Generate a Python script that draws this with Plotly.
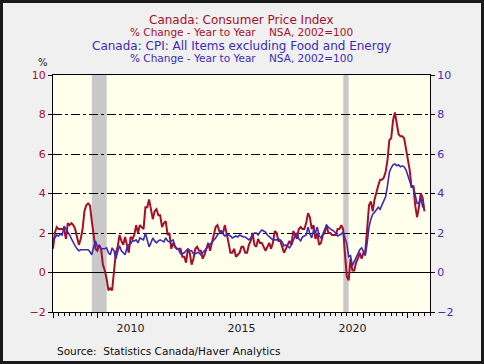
import plotly.graph_objects as go

start_year = 2007
cpi = [
    1.2, 2.0, 2.3, 2.2, 2.2, 2.2, 2.2, 1.7, 2.5, 2.4, 2.5, 2.4,   # 2007
    2.2, 1.8, 1.4, 1.7, 2.2, 3.1, 3.4, 3.5, 3.4, 2.6, 2.0, 1.2,   # 2008
    1.1, 1.4, 1.2, 0.4, 0.1, -0.3, -0.9, -0.8, -0.9, 0.1, 1.0, 1.3,  # 2009
    1.9, 1.6, 1.4, 1.8, 1.4, 1.0, 1.8, 1.7, 1.9, 2.4, 2.0, 2.4,   # 2010
    2.3, 2.2, 3.3, 3.3, 3.7, 3.1, 2.7, 3.1, 3.2, 2.9, 2.9, 2.3,   # 2011
    2.5, 2.6, 1.9, 2.0, 1.2, 1.5, 1.3, 1.2, 1.2, 1.2, 0.8, 0.8,   # 2012
    0.5, 1.2, 1.0, 0.4, 0.7, 1.2, 1.3, 1.1, 1.1, 0.7, 0.9, 1.2,   # 2013
    1.5, 1.1, 1.5, 2.0, 2.3, 2.4, 2.1, 2.1, 2.0, 2.4, 2.0, 1.5,   # 2014
    1.0, 1.0, 1.2, 0.8, 0.9, 1.0, 1.3, 1.3, 1.0, 1.0, 1.4, 1.6,   # 2015
    2.0, 1.4, 1.3, 1.7, 1.5, 1.5, 1.3, 1.1, 1.3, 1.5, 1.2, 1.5,   # 2016
    2.1, 2.0, 1.6, 1.6, 1.3, 1.0, 1.2, 1.4, 1.6, 1.4, 2.1, 1.9,   # 2017
    1.7, 2.2, 2.3, 2.2, 2.2, 2.5, 3.0, 2.8, 2.2, 2.4, 1.7, 2.0,   # 2018
    1.4, 1.5, 1.9, 2.0, 2.4, 2.0, 2.0, 1.9, 1.9, 1.9, 2.2, 2.2,   # 2019
    2.4, 2.2, 0.9, -0.2, -0.4, 0.7, 0.1, 0.1, 0.5, 0.7, 1.0, 0.7,  # 2020
    1.0, 1.1, 2.2, 3.4, 3.6, 3.1, 3.7, 4.1, 4.4, 4.7, 4.7, 4.8,   # 2021
    5.1, 5.7, 6.7, 6.8, 7.7, 8.1, 7.6, 7.0, 6.9, 6.9, 6.8, 6.3,   # 2022
    5.9, 5.2, 4.3, 4.4, 3.4, 2.8, 3.3, 4.0, 3.8, 3.1,             # 2023
]
core = [
    1.67, 1.75, 1.9, 1.85, 1.95, 1.9, 2.35, 2.2, 2.1, 1.9, 1.7, 1.5,   # 2007
    1.35, 1.2, 1.1, 1.15, 1.15, 1.15, 1.15, 1.15, 1.05, 0.9, 1.3, 1.6,  # 2008
    1.3, 1.3, 1.2, 1.2, 1.2, 1.25, 1.0, 0.9, 1.25, 1.1, 0.7, 1.05,     # 2009
    1.35, 1.1, 1.0, 0.9, 1.25, 1.4, 1.45, 1.6, 1.6, 1.65, 1.5, 1.75,   # 2010
    1.7, 1.65, 2.0, 1.7, 1.3, 1.5, 1.75, 1.6, 1.5, 1.6, 1.65, 1.6,     # 2011
    1.55, 1.75, 1.6, 1.55, 1.6, 1.65, 1.35, 1.2, 1.15, 0.95, 0.95, 1.0,  # 2012
    1.1, 1.2, 1.1, 1.1, 0.95, 0.95, 1.0, 1.0, 0.9, 1.0, 1.1, 1.25,     # 2013
    1.35, 1.4, 1.5, 1.6, 1.75, 1.9, 2.0, 2.1, 1.95, 1.85, 1.95, 1.9,   # 2014
    1.85, 1.75, 1.8, 1.85, 1.8, 1.9, 1.85, 1.8, 1.8, 1.7, 1.65, 1.75,  # 2015
    1.9, 2.0, 2.0, 1.9, 2.05, 2.15, 2.1, 2.05, 1.9, 1.8, 1.75, 1.65,   # 2016
    1.65, 1.65, 1.7, 1.65, 1.55, 1.35, 1.4, 1.3, 1.25, 1.4, 1.65, 1.85,  # 2017
    2.0, 1.7, 1.6, 1.8, 1.85, 1.9, 2.3, 1.95, 1.75, 2.15, 2.0, 2.3,    # 2018
    1.85, 1.75, 1.95, 2.15, 2.4, 2.3, 2.2, 2.15, 2.1, 2.0, 1.85, 1.9,  # 2019
    1.95, 2.05, 1.8, 1.45, 0.8, 0.85, 0.35, 0.55, 0.8, 1.0, 1.15, 1.25,  # 2020
    1.0, 0.85, 1.5, 2.3, 2.7, 2.95, 3.05, 3.2, 3.3, 3.2, 3.4, 3.6,     # 2021
    3.85, 4.4, 5.06, 5.3, 5.45, 5.5, 5.4, 5.45, 5.35, 5.4, 5.35, 5.2,  # 2022
    4.9, 4.6, 4.35, 4.35, 3.9, 3.5, 3.5, 3.8, 3.35, 3.2,               # 2023
]
recessions = [(2008.75, 2009.42), (2020.09, 2020.33)]
y_ticks = [-2, 0, 2, 4, 6, 8, 10]
x_labels = ["2010", "2015", "2020"]

dates = [start_year + i / 12 for i in range(len(cpi))]

RED = "#A50F2D"
BLUE = "#3D2BB5"
FONT = "DejaVu Sans"

fig = go.Figure()
fig.add_trace(go.Scatter(x=dates, y=core, mode="lines", yaxis="y2",
                         line=dict(color=BLUE, width=1.6), showlegend=False))
fig.add_trace(go.Scatter(x=dates, y=cpi, mode="lines",
                         line=dict(color=RED, width=2), showlegend=False))

for a, b in recessions:
    fig.add_shape(type="rect", xref="x", yref="paper", x0=a, x1=b, y0=0, y1=1,
                  fillcolor="#C8C8C8", line=dict(width=0), layer="below")

W, H = 484, 364
L, R, T, B = 53, 54, 75, 52
pw, ph = W - L - R, H - T - B

def px(xp):
    return (xp - L) / pw

def py(yp):
    return (H - B - yp) / ph

# outer frame
fig.add_shape(type="rect", xref="paper", yref="paper",
              x0=px(1.5), x1=px(482.5), y0=py(362.5), y1=py(1.5),
              line=dict(color="#1A1A1A", width=3), fillcolor="rgba(0,0,0,0)")

def ann(text, xp, yp, color, size, xanchor="center"):
    fig.add_annotation(text=text, xref="paper", yref="paper", x=px(xp), y=py(yp),
                       showarrow=False, xanchor=xanchor, yanchor="middle",
                       font=dict(family=FONT, size=size, color=color))

NB = "\u00a0"
ann("Canada: Consumer Price Index", 241, 20, RED, 12)
ann("% Change - Year to Year" + NB * 4 + "NSA, 2002=100", 241, 32, RED, 10.5)
ann("Canada: CPI: All Items excluding Food and Energy", 241, 46, BLUE, 12)
ann("% Change - Year to Year" + NB * 4 + "NSA, 2002=100", 241, 58, BLUE, 10.5)
ann("%", 43, 63, "#222222", 10)
ann("Source:" + NB * 2 + "Statistics Canada/Haver Analytics", 55, 351, "#111111", 10.5, "left")

year_ticks = list(range(2007, 2025, 2))
quarter_ticks = [start_year + q / 4 for q in range(0, 17 * 4 + 1)]

fig.update_layout(
    width=W, height=H,
    margin=dict(l=L, r=R, t=T, b=B, pad=0),
    paper_bgcolor="#F0F0F0",
    plot_bgcolor="#FFFFEB",
    font=dict(family=FONT, size=11),
    xaxis=dict(range=[2007, 2024], showgrid=False, zeroline=False,
               showline=True, linecolor="black", linewidth=1, mirror=True,
               tickvals=year_ticks, ticks="outside", ticklen=5, tickcolor="black",
               showticklabels=False,
               minor=dict(tickvals=quarter_ticks, ticks="outside", ticklen=3,
                          tickcolor="black", showgrid=False)),
    xaxis2=dict(range=[2007, 2024], overlaying="x", side="bottom", anchor="y",
                showgrid=False, zeroline=False, showline=False,
                tickvals=[float(t) + 0.5 for t in x_labels], ticktext=x_labels,
                ticks="", ticklabelstandoff=8,
                tickfont=dict(family=FONT, size=11, color="#222222")),
    yaxis=dict(range=[-2, 10], tickvals=y_ticks, showgrid=True, gridcolor="black",
               griddash="dashdot", gridwidth=1, zeroline=True, zerolinecolor="black",
               zerolinewidth=1, showline=True, linecolor="black", linewidth=1,
               mirror=True, ticks="outside", ticklen=4, tickcolor="black",
               tickfont=dict(family=FONT, size=11, color=RED)),
    yaxis2=dict(range=[-2, 10], tickvals=y_ticks, overlaying="y", side="right",
                showgrid=False, zeroline=False, showline=False,
                ticks="outside", ticklen=4, tickcolor="black",
                tickfont=dict(family=FONT, size=11, color=BLUE)),
)
# invisible trace to activate xaxis2
fig.add_trace(go.Scatter(x=[2007, 2024], y=[None, None], xaxis="x2", mode="lines",
                         showlegend=False, hoverinfo="skip"))

fig.write_html("out.html", config={"displayModeBar": False},
               post_script="document.body.style.margin='0px';document.body.style.overflow='hidden';")
